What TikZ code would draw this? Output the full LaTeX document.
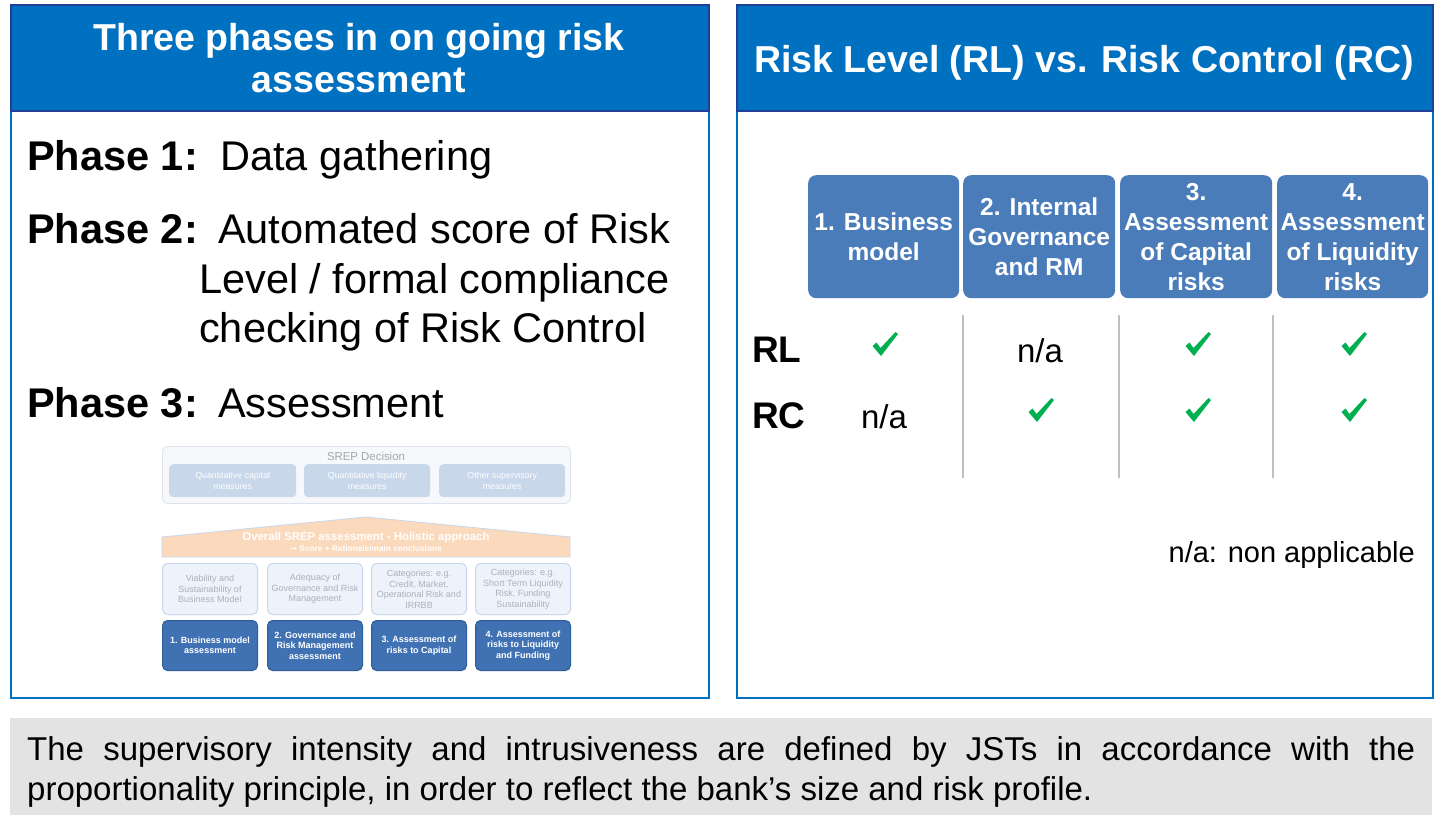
\documentclass[tikz,border=0pt]{standalone}
\usepackage{fontspec}
\setmainfont{Liberation Sans}
\newfontfamily\djv{DejaVu Sans}
\definecolor{headblue}{HTML}{0070C0}
\definecolor{headline}{HTML}{203F96}
\definecolor{colblue}{HTML}{4A7CBA}
\definecolor{chkgreen}{HTML}{00B050}
\definecolor{sepgray}{HTML}{BFBFBF}
\definecolor{notegray}{HTML}{E3E3E3}
\definecolor{srepfill}{HTML}{F6F8FB}
\definecolor{srepline}{HTML}{DCE3EC}
\definecolor{qfill}{HTML}{C9D7EB}
\definecolor{peach}{HTML}{FBD9BC}
\definecolor{lightfill}{HTML}{EEF3FB}
\definecolor{lightline}{HTML}{C8D7EC}
\definecolor{lighttext}{HTML}{A9B1BC}
\definecolor{darkfill}{HTML}{3F71B3}
\definecolor{darkline}{HTML}{2F5D9A}
\tikzset{
  panel/.style={draw=headblue, line width=1.5pt, inner sep=0pt, anchor=north west},
  headbox/.style={draw=headline, fill=headblue, line width=2pt, inner sep=0pt, anchor=north west},
  headtxt/.style={text=white, font=\bfseries\fontsize{37.5}{42}\selectfont, inner sep=0pt, anchor=base},
  phaselbl/.style={font=\bfseries\fontsize{41.5}{48}\selectfont, inner sep=0pt, anchor=base west},
  phasetxt/.style={font=\fontsize{41.5}{48}\selectfont, inner sep=0pt, anchor=base west},
  colbox/.style={fill=colblue, rounded corners=8pt, inner sep=0pt, anchor=north west, minimum height=123pt,
    text=white, align=center, font=\bfseries\fontsize{24.5}{30}\selectfont},
  rowlbl/.style={font=\bfseries\fontsize{37}{42}\selectfont, inner sep=0pt, anchor=base west},
  chkmark/.pic={\fill[chkgreen] (-12.5,2) -- (-8.5,-1.5) -- (-4.5,4) -- (10.5,-12) -- (13,-10) -- (-4,12) -- cycle;},
  natxt/.style={font=\fontsize{33}{40}\selectfont, inner sep=0pt, anchor=base},
  sepline/.style={draw=sepgray, line width=2.5pt},
  srepbox/.style={draw=srepline, fill=srepfill, rounded corners=5pt, inner sep=0pt, anchor=north west, line width=0.8pt},
  qbox/.style={fill=qfill, rounded corners=4pt, inner sep=0pt, anchor=north west, minimum height=33pt,
    text=white, align=center, font=\fontsize{8.8}{11}\selectfont},
  lightbox/.style={draw=lightline, fill=lightfill, rounded corners=5pt, inner sep=0pt, anchor=north west,
    minimum width=95pt, minimum height=51pt, line width=1pt, text=lighttext, align=center, font=\fontsize{9}{10.5}\selectfont},
  darkbox/.style={draw=darkline, fill=darkfill, rounded corners=5pt, inner sep=0pt, anchor=north west,
    minimum width=95pt, minimum height=50pt, line width=1pt, text=white, align=center, font=\bfseries\fontsize{9}{10.5}\selectfont},
  notetxt/.style={font=\fontsize{33}{40}\selectfont, inner sep=0pt, anchor=base west}
}
\begin{document}
\begin{tikzpicture}[x=1pt,y=-1pt]
\useasboundingbox[fill=white] (0,0) rectangle (1449,827);

% ---------- left panel ----------
\node[panel, minimum width=698pt, minimum height=693pt] (lpanel) at (10,4) {};
\node[headbox, minimum width=698pt, minimum height=106pt] (lhead) at (10,4) {};
\node[headtxt] (lh1) at (359,50) {Three phases in on going risk};
\node[headtxt] (lh2) at (359,92) {assessment};

\node[phaselbl] (p1) at (27,170) {Phase 1:};
\node[phasetxt] (t1) at (220,170) {Data gathering};
\node[phaselbl] (p2) at (27,243) {Phase 2:};
\node[phasetxt] (t2) at (218,243) {Automated score of Risk};
\node[phasetxt] (t2b) at (199,293) {Level / formal compliance};
\node[phasetxt] (t2c) at (199,342) {checking of Risk Control};
\node[phaselbl] (p3) at (27,417) {Phase 3:};
\node[phasetxt] (t3) at (218,417) {Assessment};

% SREP mini diagram
\node[srepbox, minimum width=408pt, minimum height=57pt] (srep) at (162,446) {};
\node[text=black!35, font=\fontsize{11.4}{13}\selectfont, inner sep=0pt] (sreplbl) at (366,456) {SREP Decision};
\node[qbox, minimum width=127pt] (q1) at (169,464) {Quantitative capital\\measures};
\node[qbox, minimum width=126pt] (q2) at (304,464) {Quantitative liquidity\\measures};
\node[qbox, minimum width=126pt] (q3) at (439,464) {Other supervisory\\measures};

\draw[fill=peach, draw=lightline, line width=0.8pt] (162,557) -- (162,537) -- (366,517) -- (570,537) -- (570,557) -- cycle;
\node[text=white, font=\bfseries\fontsize{11.4}{13}\selectfont, inner sep=0pt] (ov1) at (366,538) {Overall SREP assessment - Holistic approach};
\node[text=white, font=\bfseries\fontsize{8.3}{10}\selectfont, inner sep=0pt] (ov2) at (366,549) {{\djv →} Score + Rationale/main conclusions};

\node[lightbox] (l1) at (162,563) {Viability and\\Sustainability of\\Business Model};
\node[lightbox] (l2) at (267,563) {Adequacy of\\Governance and Risk\\Management};
\node[lightbox] (l3) at (371,563) {Categories: e.g.\\Credit, Market,\\Operational Risk and\\IRRBB};
\node[lightbox] (l4) at (475,563) {Categories: e.g.\\Short Term Liquidity\\Risk, Funding\\Sustainability};

\node[darkbox] (d1) at (162,620) {1. Business model\\assessment};
\node[darkbox] (d2) at (267,620) {2. Governance and\\Risk Management\\assessment};
\node[darkbox] (d3) at (371,620) {3. Assessment of\\risks to Capital};
\node[darkbox] (d4) at (475,620) {4. Assessment of\\risks to Liquidity\\and Funding};

% ---------- right panel ----------
\node[panel, minimum width=696pt, minimum height=693pt] (rpanel) at (736,4) {};
\node[headbox, minimum width=696pt, minimum height=106pt] (rhead) at (736,4) {};
\node[headtxt] (rh) at (1084,72) {Risk Level (RL) vs. Risk Control (RC)};

\node[colbox, minimum width=151pt] (c1) at (808,175) {1. Business\\model};
\node[colbox, minimum width=152pt] (c2) at (963,175) {2. Internal\\Governance\\and RM};
\node[colbox, minimum width=152pt] (c3) at (1120,175) {3.\\Assessment\\of Capital\\risks};
\node[colbox, minimum width=151pt] (c4) at (1277,175) {4.\\Assessment\\of Liquidity\\risks};

\coordinate (s1a) at (963,315); \coordinate (s1b) at (963,478);
\coordinate (s2a) at (1119,315); \coordinate (s2b) at (1119,478);
\coordinate (s3a) at (1273,315); \coordinate (s3b) at (1273,478);
\draw[sepline] (s1a) -- (s1b);
\draw[sepline] (s2a) -- (s2b);
\draw[sepline] (s3a) -- (s3b);

\node[rowlbl] (rl) at (752,362) {RL};
\node[rowlbl] (rc) at (752,428) {RC};

\pic at (885,344) {chkmark};
\node[natxt] (na12) at (1040,362) {n/a};
\pic at (1198,344) {chkmark};
\pic at (1354,344) {chkmark};
\node[natxt] (na21) at (884,428) {n/a};
\pic at (1041,410) {chkmark};
\pic at (1198,410) {chkmark};
\pic at (1354,410) {chkmark};

\node[font=\fontsize{29}{34}\selectfont, inner sep=0pt, anchor=base east] (legend) at (1415,562) {n/a: non applicable};

% ---------- bottom note ----------
\node[fill=notegray, inner sep=0pt, anchor=north west, minimum width=1422pt, minimum height=97pt] (note) at (10,718) {};
\node[notetxt] (n1) at (27,760) {\makebox[1388pt][s]{The supervisory intensity and intrusiveness are defined by JSTs in accordance with the}};
\node[notetxt] (n2) at (27,800) {proportionality principle, in order to reflect the bank’s size and risk profile.};
\end{tikzpicture}
\end{document}
